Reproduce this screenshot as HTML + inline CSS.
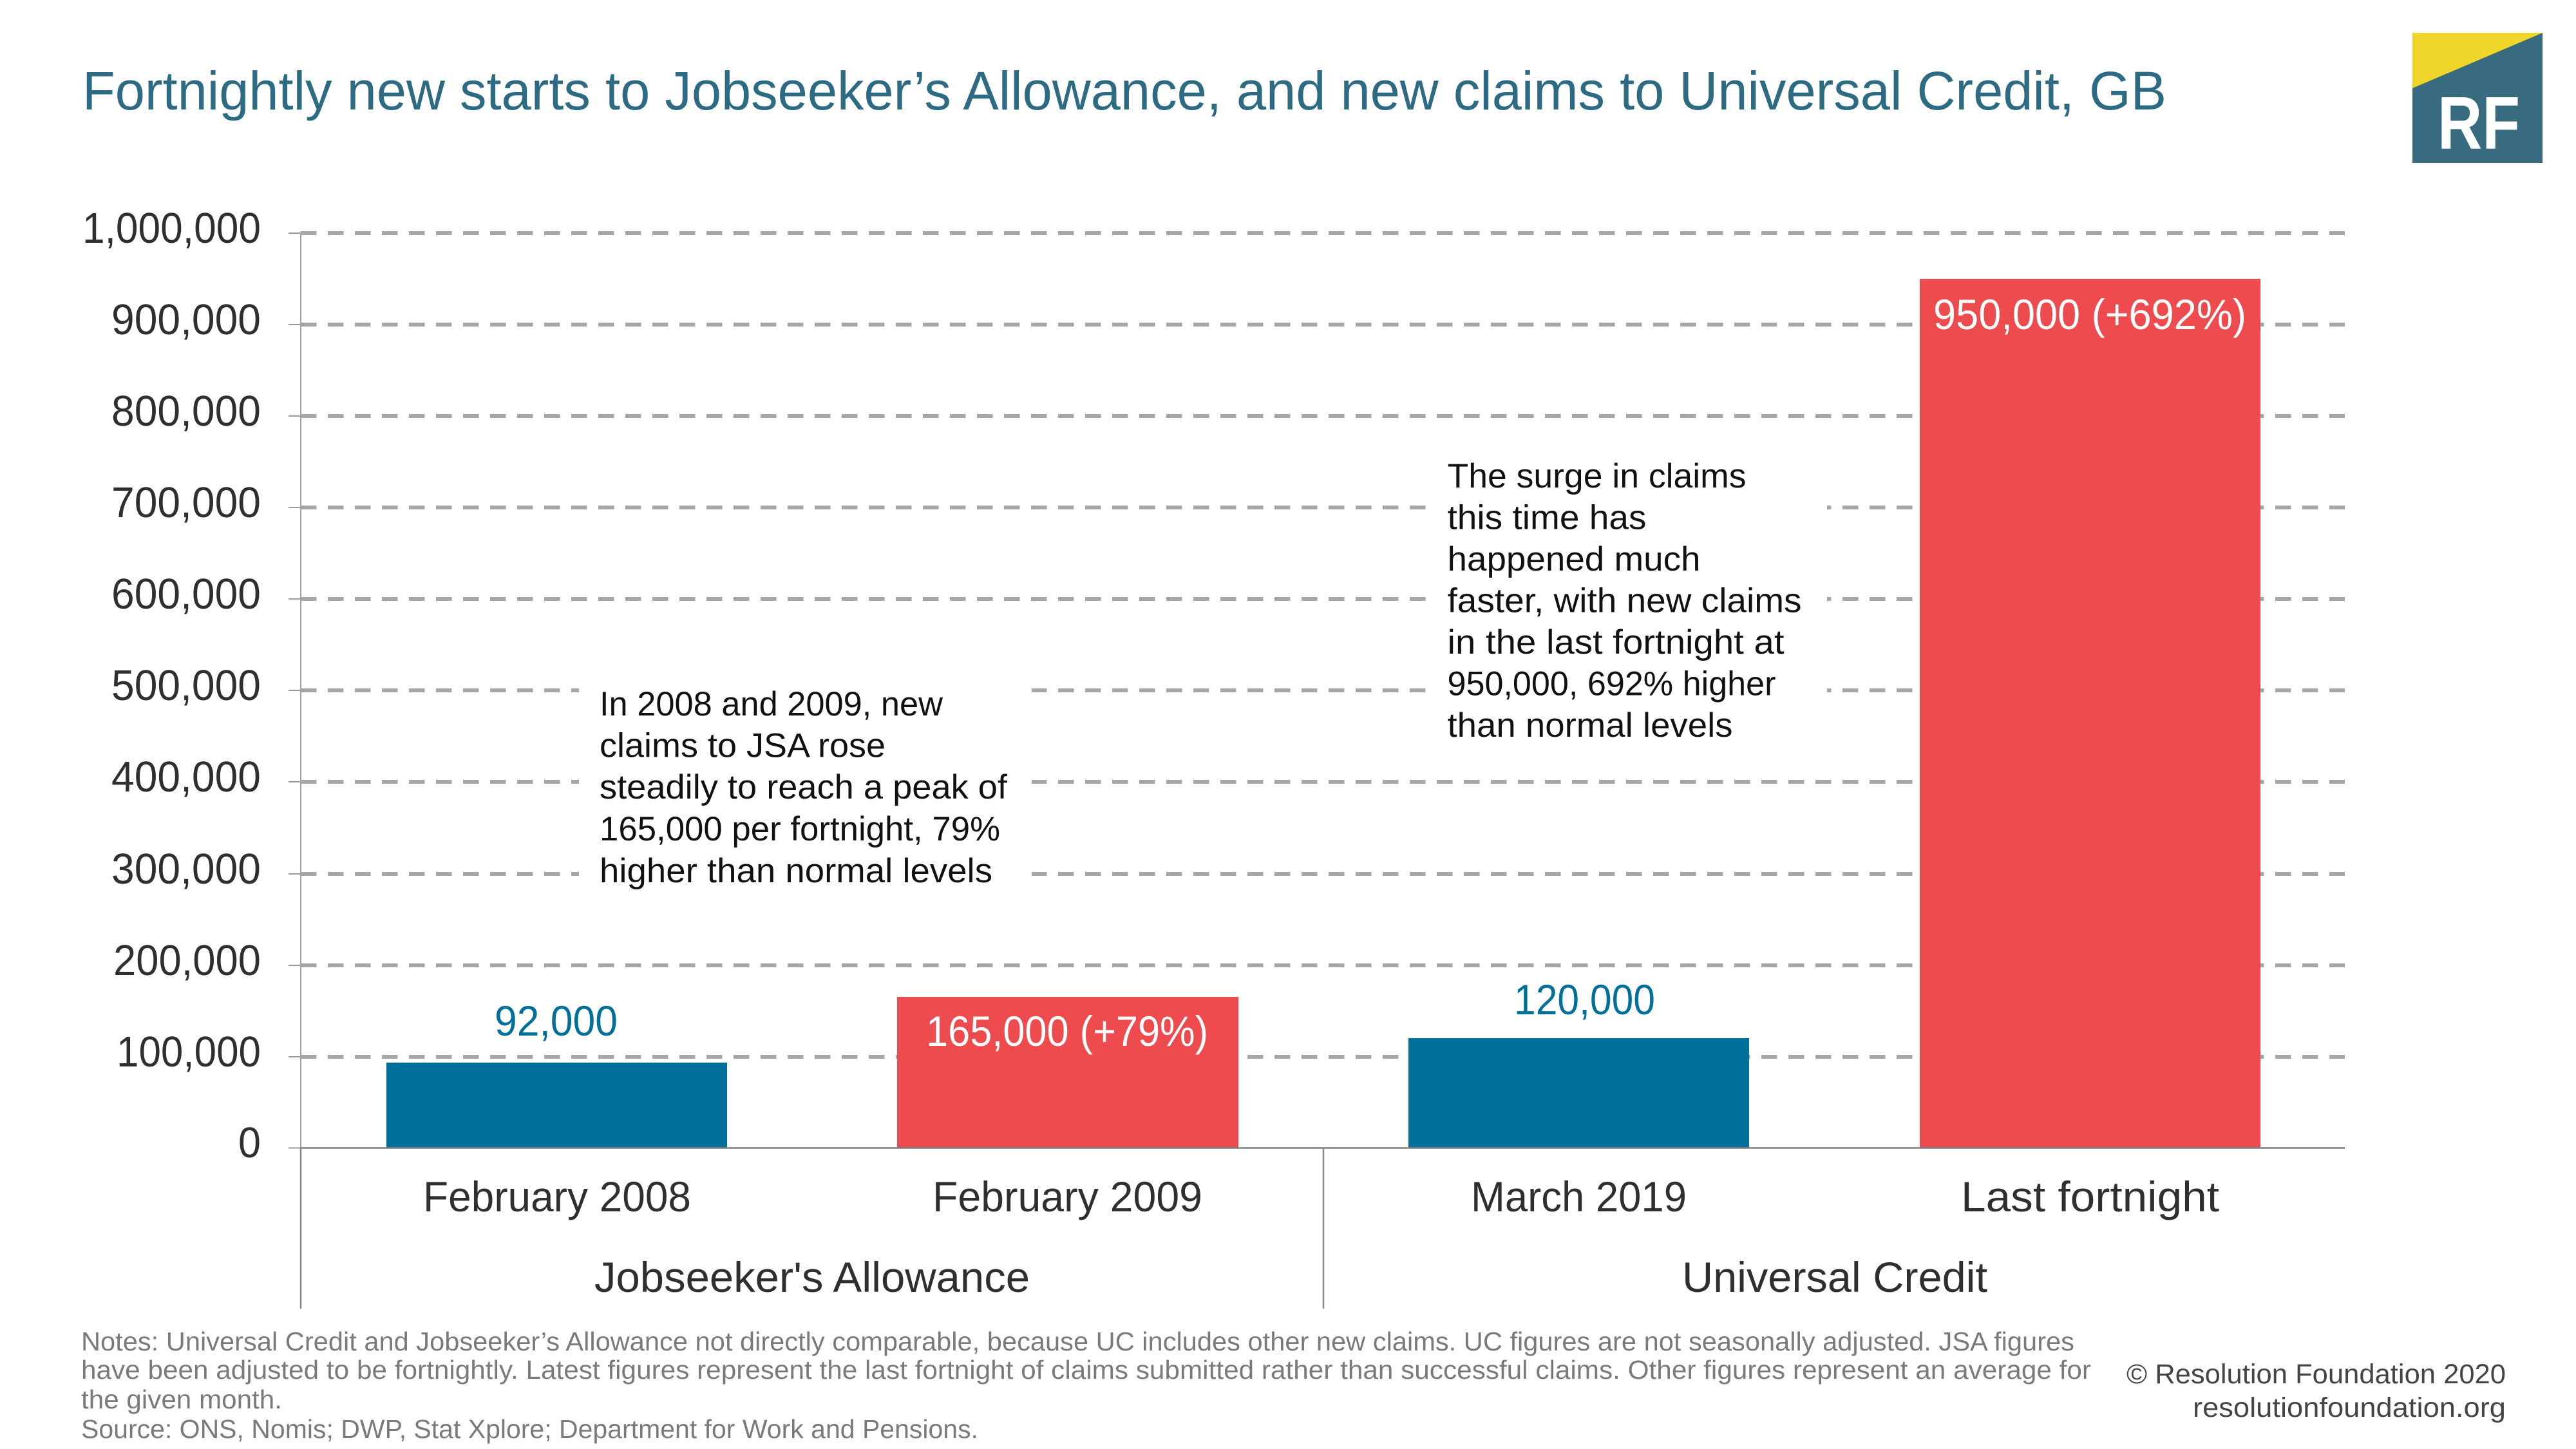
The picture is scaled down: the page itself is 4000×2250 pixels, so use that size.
<!DOCTYPE html>
<html>
<head>
<meta charset="utf-8">
<style>
  html,body{margin:0;padding:0;background:#fff;}
  svg{display:block;}
  text{font-family:"Liberation Sans", sans-serif;}
</style>
</head>
<body>
<svg width="4000" height="2250" viewBox="0 0 4000 2250" xmlns="http://www.w3.org/2000/svg">
  <rect x="0" y="0" width="4000" height="2250" fill="#ffffff"/>

  <!-- Title -->
  <text x="128" y="170" font-size="84" fill="#2d6b84" textLength="3236" lengthAdjust="spacingAndGlyphs">Fortnightly new starts to Jobseeker’s Allowance, and new claims to Universal Credit, GB</text>

  <!-- Logo -->
  <rect x="3746" y="51" width="202" height="202" fill="#386a80"/>
  <polygon points="3746,51 3948,51 3746,137" fill="#f0d52b"/>
  <text x="3785" y="231" font-size="116" font-weight="bold" fill="#ffffff" textLength="128" lengthAdjust="spacingAndGlyphs">RF</text>

  <!-- Gridlines -->
  <g stroke="#a6a6a6" stroke-width="6" stroke-dasharray="24.5 17.5" fill="none">
    <line x1="467" y1="362" x2="3641" y2="362"/>
    <line x1="467" y1="504" x2="3641" y2="504"/>
    <line x1="467" y1="646" x2="3641" y2="646"/>
    <line x1="467" y1="788" x2="3641" y2="788"/>
    <line x1="467" y1="930" x2="3641" y2="930"/>
    <line x1="467" y1="1072" x2="3641" y2="1072"/>
    <line x1="467" y1="1214" x2="3641" y2="1214"/>
    <line x1="467" y1="1357" x2="3641" y2="1357"/>
    <line x1="467" y1="1499" x2="3641" y2="1499"/>
    <line x1="467" y1="1641" x2="3641" y2="1641"/>
  </g>

  <!-- Tick marks -->
  <g stroke="#9a9a9a" stroke-width="2">
    <line x1="448" y1="362" x2="467" y2="362"/>
    <line x1="448" y1="504" x2="467" y2="504"/>
    <line x1="448" y1="646" x2="467" y2="646"/>
    <line x1="448" y1="788" x2="467" y2="788"/>
    <line x1="448" y1="930" x2="467" y2="930"/>
    <line x1="448" y1="1072" x2="467" y2="1072"/>
    <line x1="448" y1="1214" x2="467" y2="1214"/>
    <line x1="448" y1="1357" x2="467" y2="1357"/>
    <line x1="448" y1="1499" x2="467" y2="1499"/>
    <line x1="448" y1="1641" x2="467" y2="1641"/>
    <line x1="448" y1="1782.5" x2="467" y2="1782.5"/>
  </g>

  <!-- Y axis line -->
  <line x1="467" y1="362" x2="467" y2="1782" stroke="#a0a0a0" stroke-width="2"/>

  <!-- Y labels -->
  <g font-size="67" fill="#2f2f2f" lengthAdjust="spacingAndGlyphs">
    <text x="128" y="377" textLength="277" lengthAdjust="spacingAndGlyphs">1,000,000</text>
    <text x="173" y="519" textLength="232" lengthAdjust="spacingAndGlyphs">900,000</text>
    <text x="173" y="661" textLength="232" lengthAdjust="spacingAndGlyphs">800,000</text>
    <text x="173" y="803" textLength="232" lengthAdjust="spacingAndGlyphs">700,000</text>
    <text x="173" y="945" textLength="232" lengthAdjust="spacingAndGlyphs">600,000</text>
    <text x="173" y="1087" textLength="232" lengthAdjust="spacingAndGlyphs">500,000</text>
    <text x="173" y="1229" textLength="232" lengthAdjust="spacingAndGlyphs">400,000</text>
    <text x="173" y="1372" textLength="232" lengthAdjust="spacingAndGlyphs">300,000</text>
    <text x="176" y="1514" textLength="229" lengthAdjust="spacingAndGlyphs">200,000</text>
    <text x="181" y="1656" textLength="224" lengthAdjust="spacingAndGlyphs">100,000</text>
    <text x="370" y="1797" textLength="35" lengthAdjust="spacingAndGlyphs">0</text>
  </g>

  <!-- Annotation backgrounds -->
  <rect x="899" y="1010" width="703" height="390" fill="#ffffff"/>
  <rect x="2216" y="692" width="621" height="490" fill="#ffffff"/>

  <!-- Bars -->
  <rect x="600" y="1650" width="529" height="132.5" fill="#00709b"/>
  <rect x="1393" y="1548" width="530" height="234.5" fill="#ee4b4e"/>
  <rect x="2187" y="1612" width="529" height="170.5" fill="#00709b"/>
  <rect x="2981" y="433" width="529" height="1349.5" fill="#ee4b4e"/>

  <!-- Baseline -->
  <line x1="467" y1="1782.5" x2="3641" y2="1782.5" stroke="#7f7f7f" stroke-width="2.5"/>
  <!-- Group separators -->
  <line x1="467" y1="1782" x2="467" y2="2032" stroke="#888" stroke-width="2.5"/>
  <line x1="2055" y1="1782" x2="2055" y2="2032" stroke="#888" stroke-width="2.5"/>

  <!-- Value labels -->
  <text x="768" y="1608" font-size="66" fill="#00709b" textLength="191" lengthAdjust="spacingAndGlyphs">92,000</text>
  <text x="1438" y="1624" font-size="66" fill="#ffffff" textLength="438" lengthAdjust="spacingAndGlyphs">165,000 (+79%)</text>
  <text x="2351" y="1575" font-size="66" fill="#00709b" textLength="219" lengthAdjust="spacingAndGlyphs">120,000</text>
  <text x="3002" y="511" font-size="66" fill="#ffffff" textLength="486" lengthAdjust="spacingAndGlyphs">950,000 (+692%)</text>

  <!-- Category labels -->
  <g font-size="66" fill="#2f2f2f">
    <text x="657" y="1881" textLength="416" lengthAdjust="spacingAndGlyphs">February 2008</text>
    <text x="1448" y="1881" textLength="419" lengthAdjust="spacingAndGlyphs">February 2009</text>
    <text x="2284" y="1881" textLength="335" lengthAdjust="spacingAndGlyphs">March 2019</text>
    <text x="3045" y="1881" textLength="401" lengthAdjust="spacingAndGlyphs">Last fortnight</text>
    <text x="923" y="2006" textLength="676" lengthAdjust="spacingAndGlyphs">Jobseeker's Allowance</text>
    <text x="2612" y="2006" textLength="474" lengthAdjust="spacingAndGlyphs">Universal Credit</text>
  </g>

  <!-- Annotation 1 -->
  <g font-size="53" fill="#111111">
    <text x="931" y="1111" textLength="533" lengthAdjust="spacingAndGlyphs">In 2008 and 2009, new</text>
    <text x="931" y="1175.5" textLength="444" lengthAdjust="spacingAndGlyphs">claims to JSA rose</text>
    <text x="931" y="1240" textLength="633" lengthAdjust="spacingAndGlyphs">steadily to reach a peak of</text>
    <text x="931" y="1305" textLength="622" lengthAdjust="spacingAndGlyphs">165,000 per fortnight, 79%</text>
    <text x="931" y="1370" textLength="610" lengthAdjust="spacingAndGlyphs">higher than normal levels</text>
  </g>

  <!-- Annotation 2 -->
  <g font-size="53" fill="#111111">
    <text x="2247.5" y="757" textLength="464" lengthAdjust="spacingAndGlyphs">The surge in claims</text>
    <text x="2247.5" y="821.5" textLength="309" lengthAdjust="spacingAndGlyphs">this time has</text>
    <text x="2247.5" y="886" textLength="393" lengthAdjust="spacingAndGlyphs">happened much</text>
    <text x="2247.5" y="950.5" textLength="550" lengthAdjust="spacingAndGlyphs">faster, with new claims</text>
    <text x="2247.5" y="1015" textLength="523" lengthAdjust="spacingAndGlyphs">in the last fortnight at</text>
    <text x="2247.5" y="1079.5" textLength="510" lengthAdjust="spacingAndGlyphs">950,000, 692% higher</text>
    <text x="2247.5" y="1144" textLength="443" lengthAdjust="spacingAndGlyphs">than normal levels</text>
  </g>

  <!-- Notes -->
  <g font-size="41" fill="#7a7a7a">
    <text x="126" y="2097" textLength="3095" lengthAdjust="spacingAndGlyphs">Notes: Universal Credit and Jobseeker’s Allowance not directly comparable, because UC includes other new claims. UC figures are not seasonally adjusted. JSA figures</text>
    <text x="126" y="2141" textLength="3121" lengthAdjust="spacingAndGlyphs">have been adjusted to be fortnightly. Latest figures represent the last fortnight of claims submitted rather than successful claims. Other figures represent an average for</text>
    <text x="126" y="2187" textLength="312" lengthAdjust="spacingAndGlyphs">the given month.</text>
    <text x="126" y="2233" textLength="1393" lengthAdjust="spacingAndGlyphs">Source: ONS, Nomis; DWP, Stat Xplore; Department for Work and Pensions.</text>
  </g>

  <!-- Copyright -->
  <g font-size="43" fill="#444444">
    <text x="3302" y="2148" textLength="589" lengthAdjust="spacingAndGlyphs">© Resolution Foundation 2020</text>
    <text x="3405" y="2200" textLength="486" lengthAdjust="spacingAndGlyphs">resolutionfoundation.org</text>
  </g>
</svg>
</body>
</html>
